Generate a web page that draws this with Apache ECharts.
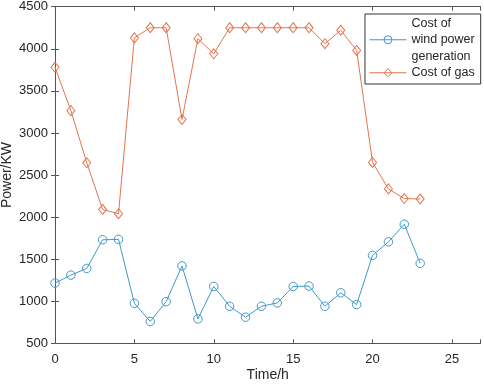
<!DOCTYPE html>
<html>
<head>
<meta charset="utf-8">
<script src="https://cdn.jsdelivr.net/npm/echarts@6/dist/echarts.min.js"></script>
<style>
  html, body { margin: 0; padding: 0; background: #fff; }
  #main { width: 484px; height: 386px; }
</style>
</head>
<body>
<div id="main"></div>
<script>
// data
var hours = [0, 1, 2, 3, 4, 5, 6, 7, 8, 9, 10, 11, 12, 13, 14, 15, 16, 17, 18, 19, 20, 21, 22, 23];
var windCost = [1215, 1310, 1390, 1730, 1735, 975, 760, 995, 1420, 790, 1175, 940,
                810, 940, 980, 1175, 1180, 940, 1100, 960, 1545, 1705, 1915, 1450];
var gasCost = [3780, 3265, 2645, 2090, 2040, 4130, 4250, 4250, 3160, 4120, 3940, 4250,
               4250, 4250, 4250, 4250, 4250, 4060, 4220, 3980, 2650, 2335, 2220, 2215];
var seriesNames = ['Cost of\nwind power\ngeneration', 'Cost of gas'];

function pairs(xs, ys) {
    return xs.map(function (x, i) { return [x, ys[i]]; });
}

var font = '"Liberation Sans", Arial, sans-serif';
var axisCol = '#555';
var textCol = '#262626';
var blue = '#3f98c8', orange = '#e2754f';

var myChart = echarts.init(document.getElementById('main'));
var option = {
    animation: false,
    color: [blue, orange],
    grid: {
        left: 55,
        right: 3.5,
        top: 6.7,
        bottom: 42.7,
        containLabel: false,
        outerBoundsMode: 'none'
    },
    legend: {
        orient: 'vertical',
        right: 3.3,
        top: 14,
        padding: [1, 6, 3, 4],
        itemGap: 0,
        itemWidth: 37,
        itemHeight: 10,
        borderColor: '#333',
        borderWidth: 1,
        backgroundColor: '#fff',
        itemStyle: { borderWidth: 1 },
        lineStyle: { width: 1 },
        textStyle: {
            color: textCol,
            fontFamily: font,
            fontSize: 12.5,
            lineHeight: 16.5
        },
        data: seriesNames
    },
    xAxis: [{
        type: 'value',
        min: 0,
        max: 26.8,
        interval: 5,
        name: 'Time/h',
        nameLocation: 'middle',
        nameGap: 25,
        nameMoveOverlap: false,
        nameTextStyle: { color: textCol, fontFamily: font, fontSize: 14 },
        axisLine: { lineStyle: { color: axisCol } },
        axisTick: { inside: true, length: 4, lineStyle: { color: axisCol } },
        axisLabel: {
            color: textCol,
            fontFamily: font,
            fontSize: 13,
            margin: 10,
            formatter: function (v) { return v % 5 === 0 ? String(v) : ''; }
        },
        splitLine: { show: false }
    }, {
        type: 'value',
        position: 'top',
        min: 0,
        max: 26.8,
        interval: 5,
        axisLine: { show: true, lineStyle: { color: axisCol } },
        axisTick: { show: true, inside: true, length: 4, lineStyle: { color: axisCol } },
        axisLabel: { show: false },
        splitLine: { show: false }
    }],
    yAxis: [{
        type: 'value',
        min: 500,
        max: 4500,
        interval: 500,
        name: 'Power/KW',
        nameLocation: 'middle',
        nameGap: 41,
        nameMoveOverlap: false,
        nameTextStyle: { color: textCol, fontFamily: font, fontSize: 14 },
        axisLine: { show: true, lineStyle: { color: axisCol } },
        axisTick: { show: true, inside: true, length: 4, lineStyle: { color: axisCol } },
        axisLabel: {
            color: textCol,
            fontFamily: font,
            fontSize: 13,
            margin: 7,
            formatter: function (v) { return String(v); }
        },
        splitLine: { show: false }
    }, {
        type: 'value',
        position: 'right',
        min: 500,
        max: 4500,
        interval: 500,
        axisLine: { show: true, lineStyle: { color: axisCol } },
        axisTick: { show: true, inside: true, length: 4, lineStyle: { color: axisCol } },
        axisLabel: { show: false },
        splitLine: { show: false }
    }],
    series: [{
        name: seriesNames[0],
        type: 'line',
        symbol: 'circle',
        symbolSize: 8.5,
        lineStyle: { width: 1, color: blue },
        itemStyle: { color: 'rgba(255,255,255,0)', borderColor: blue, borderWidth: 1 },
        data: pairs(hours, windCost)
    }, {
        name: seriesNames[1],
        type: 'line',
        symbol: 'diamond',
        symbolSize: [8, 10],
        lineStyle: { width: 1, color: orange },
        itemStyle: { color: 'rgba(255,255,255,0)', borderColor: orange, borderWidth: 1 },
        data: pairs(hours, gasCost)
    }]
};
myChart.setOption(option);
</script>
</body>
</html>
